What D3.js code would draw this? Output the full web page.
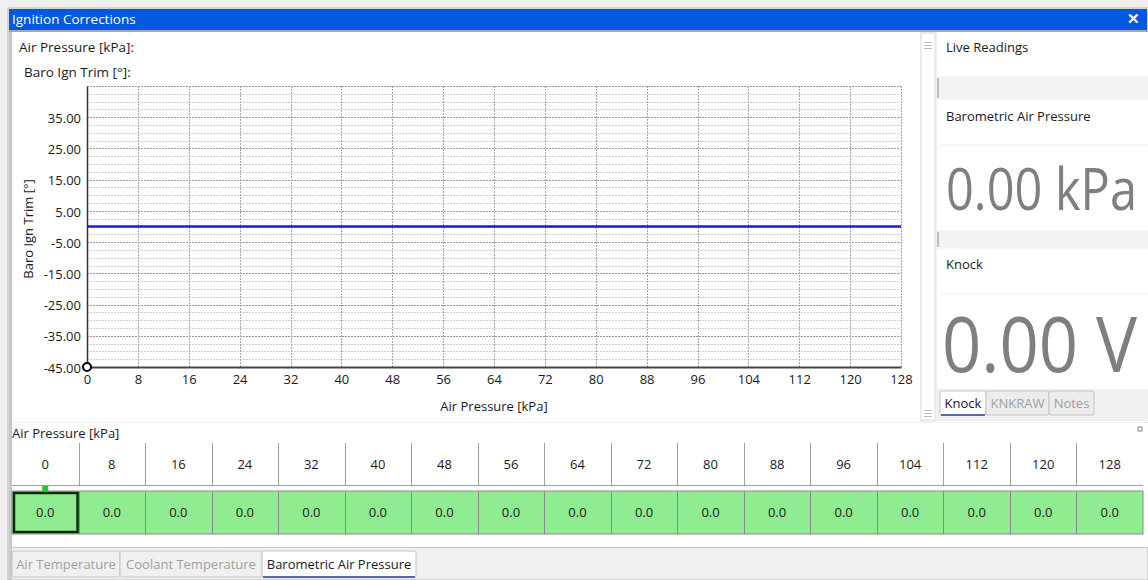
<!DOCTYPE html>
<html><head><meta charset="utf-8">
<script src="https://cdn.jsdelivr.net/npm/d3@7"></script>
<style>
html,body{margin:0;padding:0;background:#f0f0f0;}
svg{display:block;font-family:"Open Sans","Noto Sans",sans-serif;}
</style></head>
<body><svg id="c" width="1148" height="580"></svg>
<script>
// ---- data ----
const windowTitle = "Ignition Corrections";
const airPressure = [0,8,16,24,32,40,48,56,64,72,80,88,96,104,112,120,128];
const baroIgnTrim = [0,0,0,0,0,0,0,0,0,0,0,0,0,0,0,0,0];
const yTickValues = [-45,-35,-25,-15,-5,5,15,25,35];
const xLabel = "Air Pressure [kPa]";
const yLabel = "Baro Ign Trim [°]";
const liveLabels = ["Barometric Air Pressure","Knock"];
const liveValues = ["0.00 kPa","0.00 V"];
const gaugeTabs = ["Knock","KNKRAW","Notes"];
const pageTabs = ["Air Temperature","Coolant Temperature","Barometric Air Pressure"];

const svg = d3.select("#c");
const TXT = "#1a1a1a";
const FS = 13;

// window frame
svg.append("rect").attr("x",8).attr("y",8).attr("width",1140).attr("height",572).attr("fill","#f0f0f0").attr("stroke","#b9b9b9");
svg.append("rect").attr("x",9).attr("y",9).attr("width",1138).attr("height",21).attr("fill","#0258e0");
svg.append("text").attr("x",12).attr("y",24).attr("fill","#fff").attr("font-size",13.5).text(windowTitle);
svg.append("text").attr("x",1133).attr("y",24).attr("fill","#fff").attr("font-size",15).attr("font-weight","bold").attr("text-anchor","middle").text("✕");
svg.append("rect").attr("x",9).attr("y",30).attr("width",1139).attr("height",2).attr("fill","#a8a8a8");
svg.append("rect").attr("x",9).attr("y",32).attr("width",3).attr("height",548).attr("fill","#c8c8c8");

// chart panel
svg.append("rect").attr("x",12).attr("y",32).attr("width",908).attr("height",390).attr("fill","#fff");
svg.append("rect").attr("x",921).attr("y",33).attr("width",14).attr("height",387).attr("fill","#fff").attr("stroke","#dcdcdc");
[42,410].forEach(yy=>{[0,3,6].forEach(d=>svg.append("rect").attr("x",924).attr("y",yy+d).attr("width",8).attr("height",1).attr("fill","#bbb"));});

// right panel
svg.append("rect").attr("x",937).attr("y",32).attr("width",211).attr("height",390).attr("fill","#fff");
svg.append("text").attr("x",946).attr("y",52).attr("font-size",FS).attr("fill",TXT).text("Live Readings");
const bands=[[76,100],[230,249]];
bands.forEach(b=>{
  svg.append("rect").attr("x",937).attr("y",b[0]).attr("width",211).attr("height",b[1]-b[0]).attr("fill","#f3f3f3");
  svg.append("rect").attr("x",937).attr("y",b[0]+2).attr("width",2).attr("height",b[1]-b[0]-4).attr("fill","#bdbdbd");
});
// [label y, separator y, value baseline, value x, target width, font size]
const liveY=[[121,145,210,946,191,58],[269,294,372,942,195,76]];
liveLabels.forEach((l,i)=>{
  svg.append("text").attr("x",946).attr("y",liveY[i][0]).attr("font-size",FS).attr("fill",TXT).text(l);
  svg.append("line").attr("x1",940).attr("x2",1148).attr("y1",liveY[i][1]).attr("y2",liveY[i][1]).attr("stroke","#eeeeee");
  const t = svg.append("text").attr("x",0).attr("y",0).attr("font-size",liveY[i][5]).attr("fill","#7f7f7f").text(liveValues[i]);
  const w = t.node().getComputedTextLength();
  t.attr("transform",`translate(${liveY[i][3]},${liveY[i][2]}) scale(${liveY[i][4]/w},1)`);
});
// gauge tabs
svg.append("rect").attr("x",937).attr("y",389).attr("width",211).attr("height",32).attr("fill","#f0f0f0");
const gtX=[[940,986],[986,1049],[1049,1094]];
gaugeTabs.forEach((t,i)=>{
  const sel=i===0;
  svg.append("rect").attr("x",gtX[i][0]).attr("y",391).attr("width",gtX[i][1]-gtX[i][0]).attr("height",24).attr("rx",2)
    .attr("fill",sel?"#fff":"#ececec").attr("stroke","#c4c4c4");
  if(sel) svg.append("line").attr("x1",gtX[i][0]+1).attr("x2",gtX[i][1]-1).attr("y1",415).attr("y2",415).attr("stroke","#2a3fa8").attr("stroke-width",1.5);
  svg.append("text").attr("x",(gtX[i][0]+gtX[i][1])/2).attr("y",408).attr("text-anchor","middle").attr("font-size",13)
    .attr("fill",sel?TXT:"#a0a0a0").text(t);
});

// ---- chart ----
const x = d3.scaleLinear().domain([0,128]).range([87,901]);
const y = d3.scaleLinear().domain([-45,45]).range([367,86]);

svg.append("text").attr("x",19).attr("y",52).attr("font-size",FS+0.5).attr("fill",TXT).text(xLabel+":");
svg.append("text").attr("x",24).attr("y",77).attr("font-size",FS+0.5).attr("fill",TXT).text(yLabel+":");

const g = svg.append("g");
const minor = d3.range(-45,45.01,2.5);
g.selectAll("line.mn").data(minor).join("line")
  .attr("x1",x(0)).attr("x2",x(128)).attr("y1",d=>Math.round(y(d))+0.5).attr("y2",d=>Math.round(y(d))+0.5)
  .attr("stroke",d=>((d+45)%10===0)?"#9a9a9a":"#cfcfcf").attr("stroke-dasharray","2,1");
g.selectAll("line.vg").data(airPressure.slice(1)).join("line")
  .attr("x1",d=>Math.round(x(d))+0.5).attr("x2",d=>Math.round(x(d))+0.5).attr("y1",y(45)).attr("y2",y(-45))
  .attr("stroke","#a8a8a8").attr("stroke-dasharray","2,1");

const yAxis = d3.axisLeft(y).tickValues(yTickValues).tickSize(0).tickPadding(6).tickFormat(d=>d.toFixed(2));
const ya = svg.append("g").attr("transform",`translate(${x(0)},0)`).call(yAxis);
ya.select(".domain").attr("stroke","#333").attr("stroke-width",1.5);
ya.selectAll("text").attr("font-size",FS).attr("fill",TXT).attr("font-family","Open Sans").attr("dy","0.4em");
const xAxis = d3.axisBottom(x).tickValues(airPressure).tickSize(0).tickPadding(8);
const xa = svg.append("g").attr("transform",`translate(0,${y(-45)})`).call(xAxis);
xa.select(".domain").attr("stroke","#444").attr("stroke-width",2);
xa.selectAll("text").attr("font-size",FS).attr("fill",TXT).attr("font-family","Open Sans");

svg.append("text").attr("x",494).attr("y",411).attr("text-anchor","middle").attr("font-size",FS).attr("fill",TXT).text(xLabel);
svg.append("text").attr("transform","translate(33,229) rotate(-90)").attr("text-anchor","middle").attr("font-size",FS).attr("fill",TXT).text(yLabel);

svg.append("path").datum(airPressure.map((p,i)=>[p,baroIgnTrim[i]]))
  .attr("d",d3.line().x(d=>x(d[0])).y(d=>y(d[1]))).attr("fill","none").attr("stroke","#1c1cd6").attr("stroke-width",2.5);
svg.append("circle").attr("cx",x(0)).attr("cy",y(-45)).attr("r",4).attr("fill","#fff").attr("stroke","#000").attr("stroke-width",2);

// ---- table ----
svg.append("rect").attr("x",12).attr("y",423).attr("width",1136).attr("height",125).attr("fill","#fff");
svg.append("text").attr("x",12).attr("y",438).attr("font-size",FS).attr("fill",TXT).text(xLabel);
svg.append("rect").attr("x",1138).attr("y",427).attr("width",4).attr("height",4).attr("fill","none").attr("stroke","#888");
const col = d3.scaleBand().domain(airPressure).range([12,1143]);
const cw = col.bandwidth();
svg.selectAll("line.hdr").data(airPressure.slice(1)).join("line")
  .attr("x1",d=>Math.round(col(d))+0.5).attr("x2",d=>Math.round(col(d))+0.5).attr("y1",443).attr("y2",485).attr("stroke","#9c9c9c");
svg.append("line").attr("x1",12).attr("x2",1143).attr("y1",485.5).attr("y2",485.5).attr("stroke","#9c9c9c");
svg.selectAll("text.hdr").data(airPressure).join("text")
  .attr("x",d=>col(d)+cw/2).attr("y",469).attr("text-anchor","middle").attr("font-size",FS).attr("fill",TXT).text(d=>d);
svg.append("rect").attr("x",12).attr("y",491).attr("width",1131).attr("height",43).attr("fill","#90ec90").attr("stroke","#8a8a8a");
svg.selectAll("line.cell").data(airPressure.slice(1)).join("line")
  .attr("x1",d=>Math.round(col(d))+0.5).attr("x2",d=>Math.round(col(d))+0.5).attr("y1",491).attr("y2",534).attr("stroke","#8a8a8a");
svg.selectAll("text.cell").data(baroIgnTrim).join("text")
  .attr("x",(d,i)=>col(airPressure[i])+cw/2).attr("y",517).attr("text-anchor","middle").attr("font-size",FS).attr("fill",TXT).text(d=>d.toFixed(1));
svg.append("rect").attr("x",14).attr("y",493).attr("width",cw-3).attr("height",39).attr("fill","none").attr("stroke","#0a2a0a").attr("stroke-width",2.5);
svg.append("rect").attr("x",col(0)+cw/2-3).attr("y",486).attr("width",6).attr("height",5).attr("fill","#22cc22");
svg.append("line").attr("x1",12).attr("x2",1148).attr("y1",547.5).attr("y2",547.5).attr("stroke","#c8c8c8");

// bottom tabs
const ptX=[[12,120],[120,262],[262,416]];
pageTabs.forEach((t,i)=>{
  const sel=i===2;
  svg.append("rect").attr("x",ptX[i][0]).attr("y",551).attr("width",ptX[i][1]-ptX[i][0]).attr("height",26).attr("rx",2)
    .attr("fill",sel?"#fff":"#f0f0f0").attr("stroke","#c4c4c4");
  if(sel) svg.append("line").attr("x1",ptX[i][0]+1).attr("x2",ptX[i][1]-1).attr("y1",577).attr("y2",577).attr("stroke","#2a3fa8").attr("stroke-width",1.5);
  svg.append("text").attr("x",(ptX[i][0]+ptX[i][1])/2).attr("y",569).attr("text-anchor","middle").attr("font-size",13)
    .attr("fill",sel?TXT:"#a0a0a0").text(t);
});
</script></body></html>
